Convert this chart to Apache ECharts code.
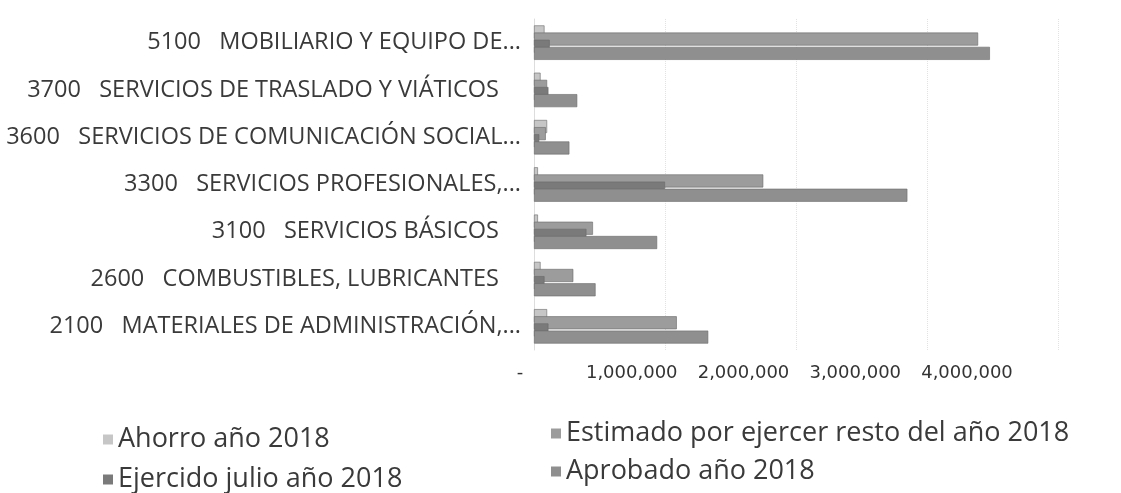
<!DOCTYPE html>
<html>
<head>
<meta charset="utf-8">
<script src="https://cdn.jsdelivr.net/npm/echarts@6/dist/echarts.min.js"></script>
<style>
  html, body { margin: 0; padding: 0; background: #ffffff; }
  #chart { width: 1121px; height: 493px; }
</style>
</head>
<body>
<div id="chart"></div>
<script>
// Budget chapters, listed bottom to top as they appear on the category axis
const categories = [
  '2100   MATERIALES DE ADMINISTRACIÓN,...',
  '2600   COMBUSTIBLES, LUBRICANTES',
  '3100   SERVICIOS BÁSICOS',
  '3300   SERVICIOS PROFESIONALES,...',
  '3600   SERVICIOS DE COMUNICACIÓN SOCIAL...',
  '3700   SERVICIOS DE TRASLADO Y VIÁTICOS',
  '5100   MOBILIARIO Y EQUIPO DE...'
];

const seriesNames = [
  'Ahorro año 2018',
  'Estimado por ejercer resto del año 2018',
  'Ejercido julio año 2018',
  'Aprobado año 2018'
];

const ahorro    = [100000, 50000, 30000, 30000, 100000, 50000, 80000];
const estimado  = [1090000, 300000, 450000, 1750000, 90000, 100000, 3390000];
const ejercido  = [110000, 80000, 400000, 1000000, 40000, 110000, 120000];
const aprobado  = [1330000, 470000, 940000, 2850000, 270000, 330000, 3480000];

const valueTicks = [0, 1000000, 2000000, 3000000, 4000000];

const colors = ['#c6c6c6', '#9c9c9c', '#7a7a7a', '#8f8f8f'];
const seriesValues = [ahorro, estimado, ejercido, aprobado];

function fmt(v) {
  if (v === 0) return '-';
  return v.toLocaleString('en-US');
}

// Full-length names sit a little further from the axis than truncated ones
function catLabel(v) {
  return v.endsWith('...') ? '{t|' + v + '}' : '{f|' + v + '}';
}

const chart = echarts.init(document.getElementById('chart'));

const series = seriesNames.map((name, i) => ({
  name: name,
  type: 'bar',
  xAxisIndex: 0,
  yAxisIndex: 0,
  data: seriesValues[i],
  barWidth: 13,
  barGap: '-45%',
  itemStyle: { color: colors[i], borderColor: '#6a6a6a', borderWidth: 0.6 },
  z: 2 + i
}));

// Two-column legend: one legend block per entry
const legendSlots = [
  { name: seriesNames[0], left: 98,  top: 421 },
  { name: seriesNames[1], left: 546, top: 415 },
  { name: seriesNames[2], left: 98,  top: 461 },
  { name: seriesNames[3], left: 546, top: 453 }
];

const legends = legendSlots.map(s => ({
  data: [s.name],
  left: s.left,
  top: s.top,
  itemWidth: 10,
  itemHeight: 10,
  icon: 'rect',
  itemStyle: { borderWidth: 0 },
  textStyle: { fontSize: 27, color: '#3a3a3a', fontFamily: 'Open Sans' }
}));

const labelFont = { fontSize: 23.5, color: '#3a3a3a', fontFamily: 'Open Sans' };

chart.setOption({
  animation: false,
  backgroundColor: '#ffffff',
  textStyle: { fontFamily: 'Open Sans' },
  legend: legends,
  grid: [
    { left: 534, right: 63, top: 19, bottom: 143, containLabel: false },
    { left: 520, right: 154, top: 19, bottom: 143, containLabel: false }
  ],
  xAxis: [
    {
      type: 'value',
      gridIndex: 0,
      min: valueTicks[0],
      max: valueTicks[valueTicks.length - 1],
      interval: 1000000,
      axisLine: { show: false },
      axisTick: { show: false },
      axisLabel: { show: false },
      splitLine: { show: true, lineStyle: { color: '#e2e2e2', type: 'dotted' } }
    },
    {
      type: 'value',
      gridIndex: 1,
      min: valueTicks[0],
      max: valueTicks[valueTicks.length - 1],
      interval: 1000000,
      axisLine: { show: false },
      axisTick: { show: false },
      splitLine: { show: false },
      axisLabel: {
        show: true,
        margin: 14,
        fontSize: 18,
        color: '#333',
        fontFamily: 'DejaVu Sans',
        formatter: fmt
      }
    }
  ],
  yAxis: [
    {
      type: 'category',
      gridIndex: 0,
      data: categories,
      axisLine: { show: true, lineStyle: { color: '#dddddd' } },
      axisTick: { show: false },
      axisLabel: {
        margin: 13,
        formatter: catLabel,
        rich: {
          t: Object.assign({}, labelFont),
          f: Object.assign({ padding: [0, 22, 0, 0] }, labelFont)
        }
      }
    },
    {
      type: 'category',
      gridIndex: 1,
      data: categories,
      show: false
    }
  ],
  series: series
});
</script>
</body>
</html>
